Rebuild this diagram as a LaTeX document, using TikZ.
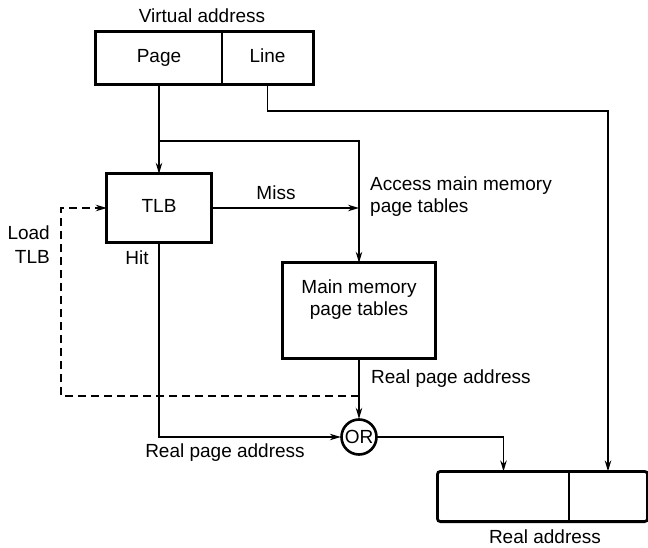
\documentclass[tikz,border=0pt]{standalone}
\usepackage{fontspec}
\setmainfont{Liberation Sans}
\usetikzlibrary{arrows.meta}
\begin{document}
\begin{tikzpicture}[x=1pt,y=-1pt,
  every node/.style={font=\fontsize{19}{22}\selectfont, inner sep=0pt},
  outline/.style={draw, line width=2.8pt},
  blockbox/.style={rectangle, align=center, text height=13pt, text depth=4pt},
  field/.style={draw, line width=1.2pt, rectangle, text height=13pt, text depth=4pt},
  wire/.style={line width=1.3pt},
  conn/.style={wire, -{Stealth[length=11pt,width=6.5pt]}},
  loadpath/.style={line width=1.4pt, dash pattern=on 8pt off 5pt, -{Stealth[length=11pt,width=6.5pt]}},
  lbl/.style={anchor=base},
]
\useasboundingbox (0,0) rectangle (648,548);

% virtual address register
\node[lbl] (valbl) at (202,23) {Virtual address};
\node[field, minimum width=126pt, minimum height=52pt] (pg) at (159,58) {Page};
\node[field, minimum width=91pt, minimum height=52pt] (ln) at (267.5,58) {Line};
\draw[outline] (pg.north west) rectangle (ln.south east);

% translation lookaside buffer and page tables
\node[blockbox, minimum width=104pt, minimum height=68pt] (tlb) at (159,208) {TLB};
\draw[outline] (tlb.north west) rectangle (tlb.south east);
\node[blockbox, minimum width=152pt, minimum height=95pt] (mm) at (359,310.5) {Main memory\\page tables};
\draw[outline] (mm.north west) rectangle (mm.south east);
\node[circle, minimum size=36pt] (or) at (359,437) {OR};
\draw[line width=2.6pt] (or.center) circle[radius=17.5pt];

% real address register
\node[field, minimum width=131pt, minimum height=49pt] (ra1) at (503.5,496.5) {};
\node[field, minimum width=78pt, minimum height=49pt] (ra2) at (608,496.5) {};
\draw[outline, rounded corners=3pt] (ra1.north west) rectangle (ra2.south east);
\node[lbl] (ralbl) at (545,543) {Real address};

% junction points
\coordinate (pj) at (159,141);
\coordinate (lj) at (267.5,111);
\coordinate (dj) at (359,396);
\coordinate (dl) at (61,396);

% connectors
\draw[conn] (pg.south) -- (tlb.north);
\draw[conn] (pj) -| (mm.north);
\draw[conn] (ln.south) -- (lj) -| (ra2.north);
\draw[conn] (tlb.east) -- (tlb.east -| mm.north);
\draw[conn] (mm.south) -- (or.north);
\draw[loadpath] (dj) -- (dl) |- (tlb.west);
\draw[conn] (tlb.south) |- (or.west);
\draw[conn] (or.east) -| (ra1.north);

% labels
\node[lbl] (miss) at (276,200) {Miss};
\node[anchor=base west] (acc1) at (370,191) {Access main memory};
\node[anchor=base west] (acc2) at (370,213) {page tables};
\node[anchor=base east] (load1) at (50,240) {Load};
\node[anchor=base east] (load2) at (50,263) {TLB};
\node[lbl] (hit) at (137,265) {Hit};
\node[anchor=base west] (rpa1) at (371,383) {Real page address};
\node[lbl] (rpa2) at (225,457) {Real page address};
\end{tikzpicture}
\end{document}
